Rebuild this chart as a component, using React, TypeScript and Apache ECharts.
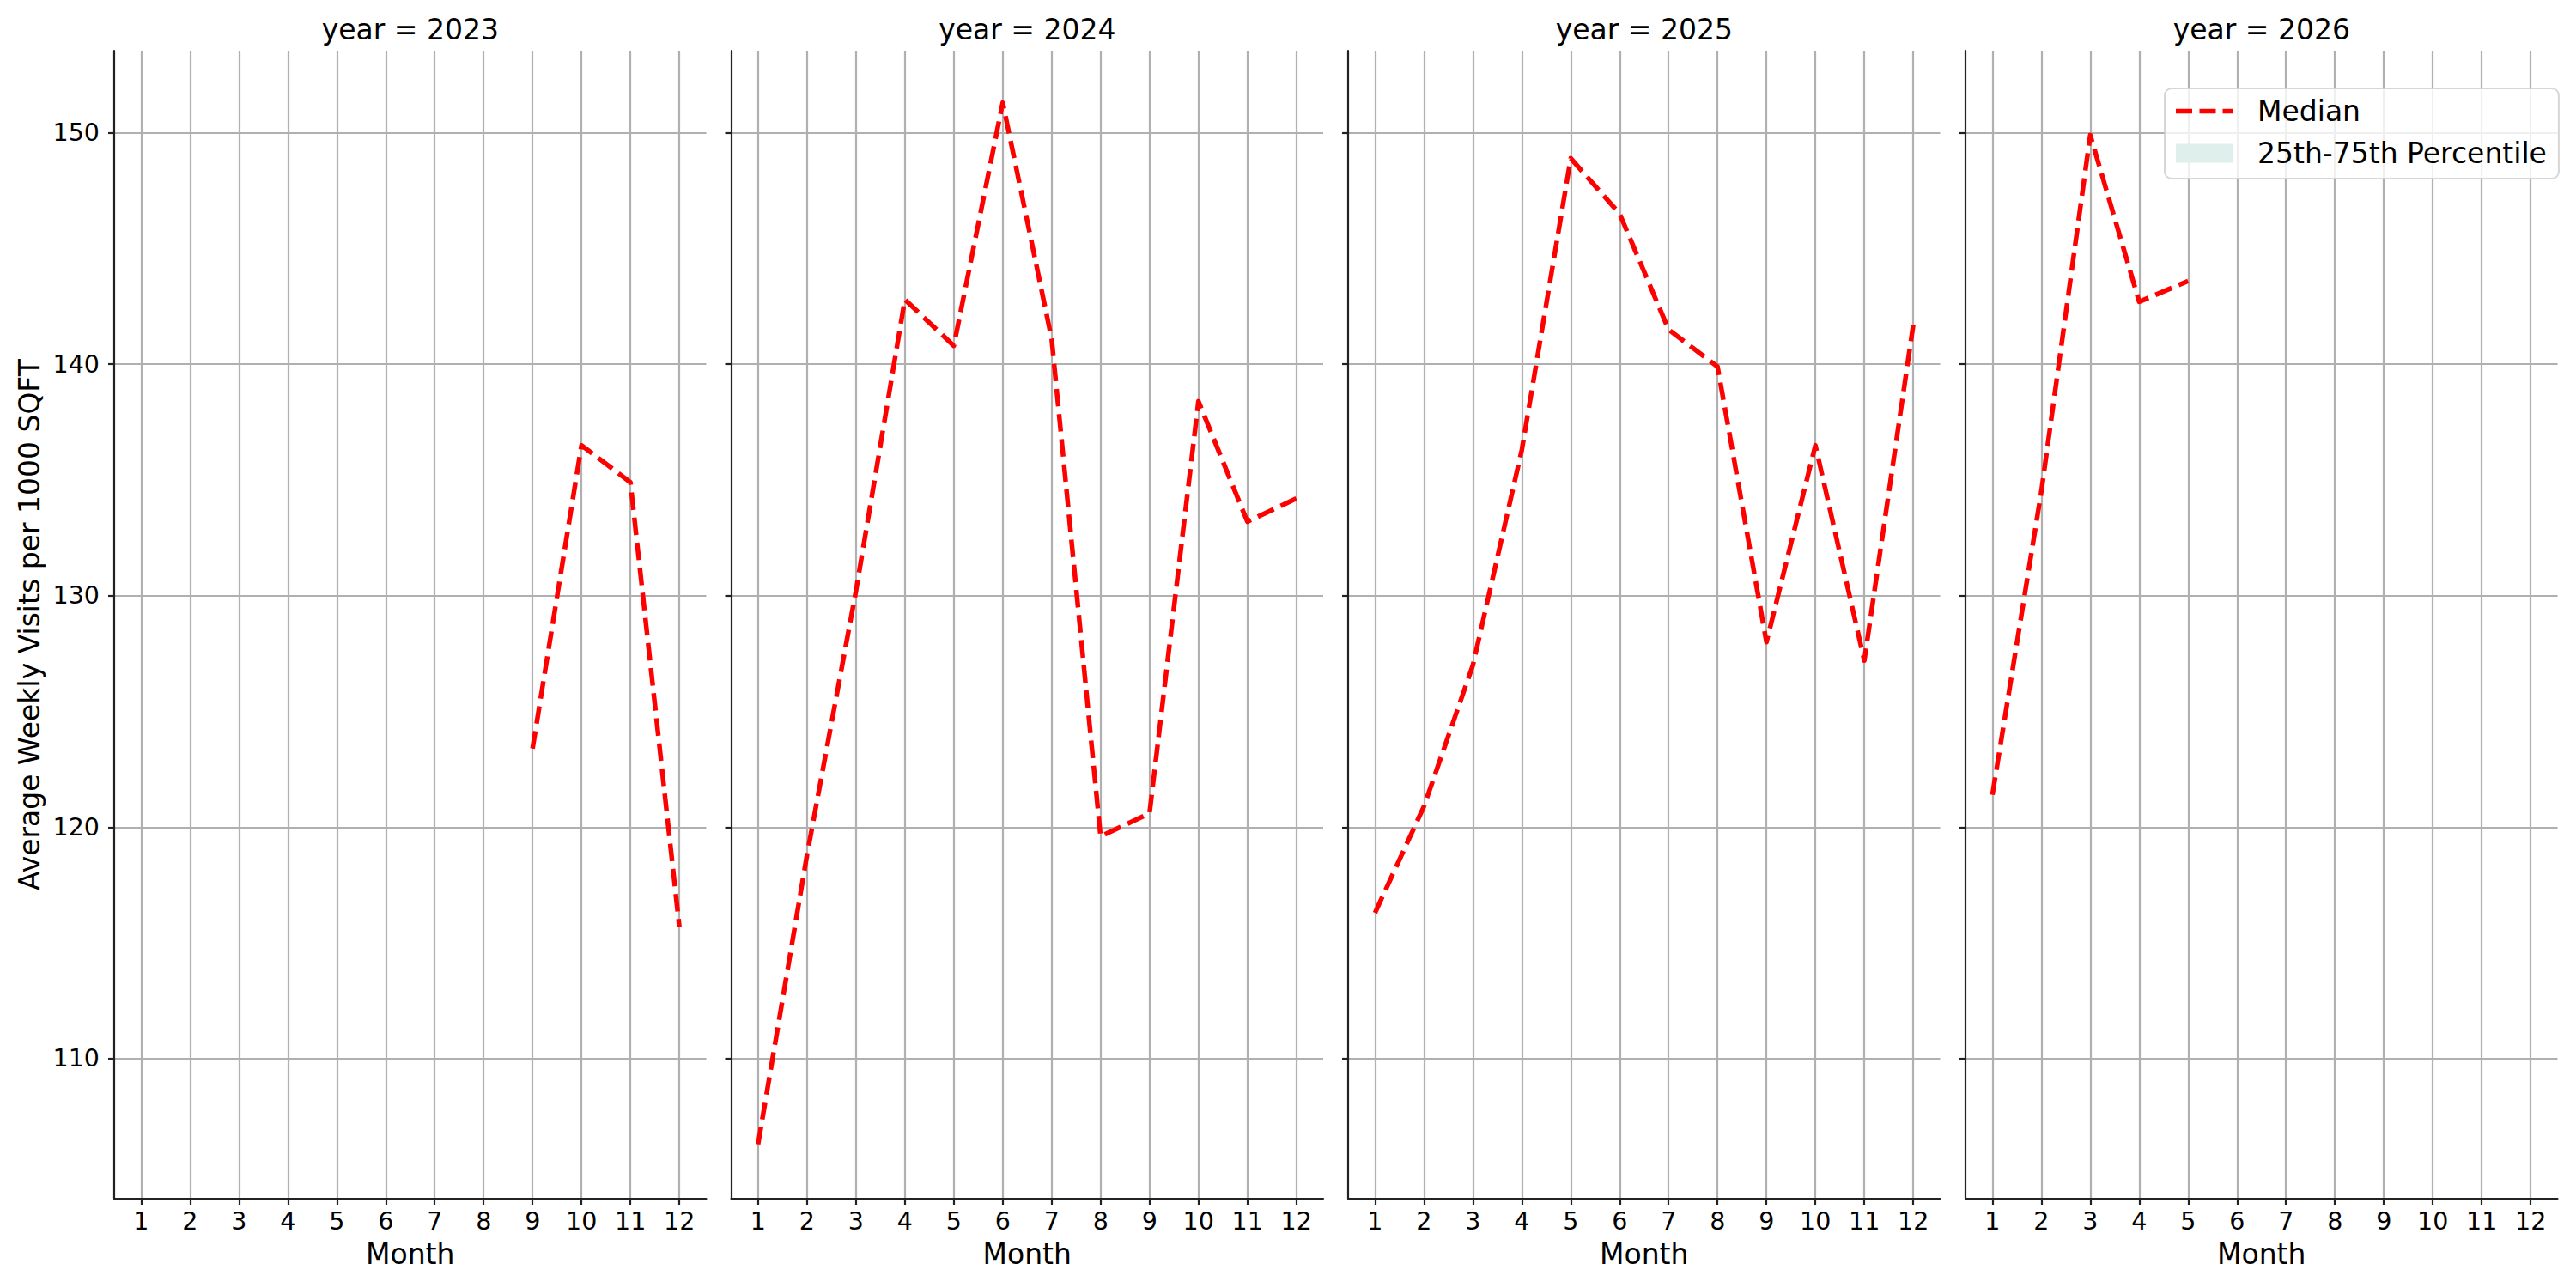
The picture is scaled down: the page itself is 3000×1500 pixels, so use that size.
import React, { useEffect, useRef } from "react";
import * as echarts from "echarts";

const years = ["2023", "2024", "2025", "2026"];
const months = [1, 2, 3, 4, 5, 6, 7, 8, 9, 10, 11, 12];
const yTicks = [110, 120, 130, 140, 150];

const median2023 = [null, null, null, null, null, null, null, null, 123.4, 136.5, 134.9, 115.7];
const median2024 = [106.3, 118.8, 130.2, 142.8, 140.8, 151.3, 141.1, 119.6, 120.6, 138.4, 133.2, 134.2];
const median2025 = [116.3, 120.9, 127.0, 136.3, 148.9, 146.5, 141.5, 139.9, 128.0, 136.5, 127.2, 141.7];
const median2026 = [121.4, 134.5, 149.9, 142.7, 143.6, null, null, null, null, null, null, null];

const medians: (number | null)[][] = [median2023, median2024, median2025, median2026];

const FONT = "DejaVu Sans";
const SPINE = "#222222";
const GRID = "#b0b0b0";
const DASH_ICON =
  "path://M0,0h19v5.5h-19z M27.5,0h19v5.5h-19z M54.5,0h12.5v5.5h-12.5z";

export default function App() {
  const ref = useRef<HTMLDivElement>(null);

  useEffect(() => {
    if (!ref.current) return;
    const chart = echarts.init(ref.current, undefined, { renderer: "svg" });

    const lefts = [133, 851.5, 1570, 2289];
    const panelW = 689.5;
    const top = 59;
    const height = 1337;

    const grids = lefts.map((l) => ({ left: l, top, width: panelW, height, containLabel: false }));

    const xAxes = years.map((_, i) => ({
      type: "value",
      gridIndex: i,
      min: 0.45,
      max: 12.55,
      name: "Month",
      nameLocation: "middle",
      nameGap: 48,
      nameTextStyle: { fontSize: 33, color: "#000", fontFamily: FONT },
      axisLine: { show: true, lineStyle: { color: SPINE, width: 2.2 } },
      axisTick: { show: true, customValues: months, length: 7, lineStyle: { color: SPINE, width: 2.2 } },
      axisLabel: { show: true, customValues: months, fontSize: 28.5, color: "#000", fontFamily: FONT, margin: 12 },
      splitLine: { show: true, lineStyle: { color: GRID, width: 2.2 } },
    }));

    const yAxes = years.map((_, i) => ({
      type: "value",
      gridIndex: i,
      min: 103.95,
      max: 153.55,
      name: i === 0 ? "Average Weekly Visits per 1000 SQFT" : "",
      nameLocation: "middle",
      nameGap: 82,
      nameTextStyle: { fontSize: 33, color: "#000", fontFamily: FONT },
      axisLine: { show: true, lineStyle: { color: SPINE, width: 2.2 } },
      axisTick: { show: true, customValues: yTicks, length: 7, lineStyle: { color: SPINE, width: 2.2 } },
      axisLabel: { show: i === 0, customValues: yTicks, fontSize: 28.5, color: "#000", fontFamily: FONT, margin: 17 },
      splitLine: { show: true, lineStyle: { color: GRID, width: 2.2 } },
    }));

    const titles = years.map((y, i) => ({
      text: `year = ${y}`,
      left: lefts[i] + panelW / 2,
      top: 18,
      textAlign: "center",
      padding: 0,
      textStyle: { fontSize: 33, fontWeight: "normal", color: "#000", fontFamily: FONT },
    }));

    const series: any[] = medians.map((arr, i) => ({
      name: "Median",
      type: "line",
      xAxisIndex: i,
      yAxisIndex: i,
      symbol: "none",
      showSymbol: false,
      connectNulls: false,
      data: months
        .map((m, k) => [m, arr[k]])
        .filter((p) => p[1] !== null),
      itemStyle: { color: "#ff0000" },
      lineStyle: { color: "#ff0000", width: 5.5, type: [20.5, 8.9], join: "round", cap: "butt" },
    }));

    series.push({
      name: "25th-75th Percentile",
      type: "line",
      xAxisIndex: 3,
      yAxisIndex: 3,
      symbol: "none",
      data: [],
      itemStyle: { color: "#dff0ec" },
      lineStyle: { width: 0 },
      areaStyle: { color: "#dff0ec" },
    });

    chart.setOption({
      animation: false,
      backgroundColor: "#ffffff",
      textStyle: { fontFamily: FONT },
      title: titles,
      grid: grids,
      xAxis: xAxes,
      yAxis: yAxes,
      legend: {
        left: 2521,
        top: 103,
        orient: "vertical",
        padding: [10, 14, 13, 13],
        itemGap: 16,
        itemWidth: 67,
        itemHeight: 22,
        symbolKeepAspect: true,
        selectedMode: false,
        backgroundColor: "rgba(255,255,255,0.8)",
        borderColor: "rgba(204,204,204,0.8)",
        borderWidth: 2,
        borderRadius: 8,
        textStyle: { fontSize: 33, color: "#000", fontFamily: FONT, padding: [0, 0, 0, 23] },
        data: [
          { name: "Median", icon: DASH_ICON, itemStyle: { color: "#ff0000", borderWidth: 0 } },
          { name: "25th-75th Percentile", icon: "rect", itemStyle: { color: "#dff0ec", borderWidth: 0 } },
        ],
      },
      series,
    });

    return () => chart.dispose();
  }, []);

  return (
    <div
      ref={ref}
      style={{ position: "absolute", left: 0, top: 0, width: 3000, height: 1500, background: "#fff" }}
    />
  );
}
